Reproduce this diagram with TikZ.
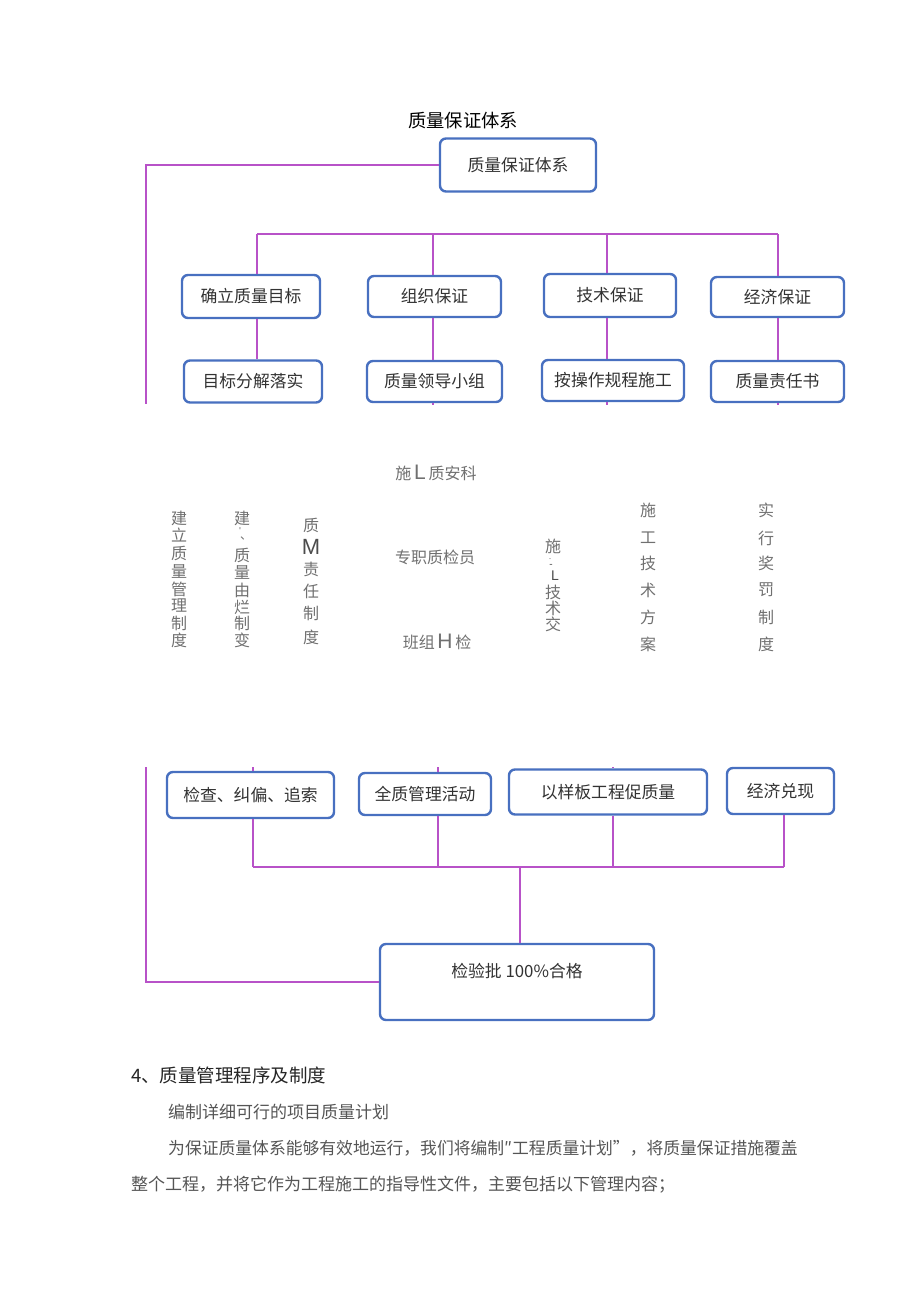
\documentclass[tikz,border=0pt]{standalone}
\usepackage{fontspec}
\newfontfamily\cjk{Noto Sans CJK SC}
\newfontfamily\lat{Liberation Sans}
\definecolor{boxblue}{RGB}{72,112,192}
\definecolor{linkpink}{RGB}{184,82,200}
\definecolor{boxtext}{RGB}{50,50,50}
\definecolor{midgray}{RGB}{112,112,112}
\definecolor{bodygray}{RGB}{85,85,85}
\begin{document}
\begin{tikzpicture}[x=1pt,y=-1pt,
  box/.style={draw=boxblue, line width=2.4pt, rounded corners=6pt, fill=white, inner sep=0pt,
    font=\cjk\fontsize{16.8}{16.8}\selectfont, text=boxtext},
  link/.style={draw=linkpink, line width=1.6pt},
  midtxt/.style={font=\cjk\fontsize{16}{16}\selectfont, text=midgray, inner sep=0pt},
  bodytxt/.style={font=\cjk\fontsize{17}{17}\selectfont, text=bodygray, inner sep=0pt, anchor=west}]
\useasboundingbox[fill=white] (0,0) rectangle (920,1302);

% title
\node[font=\cjk\fontsize{18.3}{18.3}\selectfont, text=black, inner sep=0pt] (title) at (463,121) {质量保证体系};

% top box
\node[box, minimum width=156pt, minimum height=53pt] (top) at (518,165) {质量保证体系};

% row 1
\node[box, minimum width=138pt, minimum height=43pt] (r1a) at (251,296.5) {确立质量目标};
\node[box, minimum width=133pt, minimum height=41pt] (r1b) at (434.5,296.5) {组织保证};
\node[box, minimum width=132pt, minimum height=43pt] (r1c) at (610,295.5) {技术保证};
\node[box, minimum width=133pt, minimum height=40pt] (r1d) at (777.5,297) {经济保证};
% row 2
\node[box, minimum width=138pt, minimum height=42pt] (r2a) at (253,381.5) {目标分解落实};
\node[box, minimum width=135pt, minimum height=41pt] (r2b) at (434.5,381.5) {质量领导小组};
\node[box, minimum width=142pt, minimum height=41pt] (r2c) at (613,380.5) {按操作规程施工};
\node[box, minimum width=133pt, minimum height=41pt] (r2d) at (777.5,381.5) {质量责任书};

% upper connectors
\coordinate (cutA) at (146,404);
\draw[link] (top.west) -| (cutA);
\coordinate (bus1) at (257,234);
\coordinate (bus2) at (433,234);
\coordinate (bus3) at (607,234);
\coordinate (bus4) at (778,234);
\draw[link] (bus1) -- (bus4);
\draw[link] (bus1) -- (bus1 |- r1a.north);
\draw[link] (bus2) -- (bus2 |- r1b.north);
\draw[link] (bus3) -- (bus3 |- r1c.north);
\draw[link] (bus4) -- (bus4 |- r1d.north);
\draw[link] (bus1 |- r1a.south) -- (bus1 |- r2a.north);
\draw[link] (bus2 |- r1b.south) -- (bus2 |- r2b.north);
\draw[link] (bus3 |- r1c.south) -- (bus3 |- r2c.north);
\draw[link] (bus4 |- r1d.south) -- (bus4 |- r2d.north);
\coordinate (cut2) at (433,405);
\coordinate (cut3) at (607,405);
\coordinate (cut4) at (778,405);
\draw[link] (cut2 |- r2b.south) -- (cut2);
\draw[link] (cut3 |- r2c.south) -- (cut3);
\draw[link] (cut4 |- r2d.south) -- (cut4);

% middle texts
\node[midtxt] (m1) at (436,473) {施\,{\lat\fontsize{21}{21}\selectfont L}\,质安科};
\node[midtxt] (m2) at (435,557) {专职质检员};
\node[midtxt] (m3) at (437,642) {班组\,{\lat\fontsize{21}{21}\selectfont H}\,检};

\foreach \c/\y [count=\i] in {建/518,立/535.5,质/553,量/571,管/589,理/606,制/623,度/640}
  \node[midtxt] (ca\i) at (179,\y) {\c};
\foreach \c/\y [count=\i] in {建/518,质/555,量/572,由/590,烂/607,制/623,变/640}
  \node[midtxt] (cb\i) at (242,\y) {\c};
\node[midtxt, font=\lat\fontsize{10}{10}\selectfont] (cbq) at (240,531) {'};
\node[midtxt, font=\cjk\fontsize{12}{12}\selectfont] (cbd) at (246,538) {、};
\foreach \c/\y [count=\i] in {质/525,责/569,任/591,制/613,度/637}
  \node[midtxt] (cc\i) at (311,\y) {\c};
\node[midtxt, font=\lat\fontsize{22}{22}\selectfont, text=black!70] (ccm) at (311,547) {M};
\foreach \c/\y [count=\i] in {施/546,技/592,术/608,交/624}
  \node[midtxt] (cd\i) at (553,\y) {\c};
\node[midtxt, font=\lat\fontsize{9}{9}\selectfont] (cddot) at (550,560) {·};
\node[midtxt, font=\lat\fontsize{10}{10}\selectfont, text=black!70] (cddash) at (551,566) {-};
\node[midtxt, font=\lat\fontsize{14}{14}\selectfont, text=black!70] (cdl) at (555,576) {L};
\foreach \c/\y [count=\i] in {施/510,工/538,技/563,术/590,方/617,案/644}
  \node[midtxt] (ce\i) at (648,\y) {\c};
\foreach \c/\y [count=\i] in {实/510,行/538,奖/563,罚/590,制/617,度/644}
  \node[midtxt] (cf\i) at (766,\y) {\c};

% row 3
\node[box, minimum width=167pt, minimum height=46pt] (r3a) at (250.5,795) {检查、纠偏、追索};
\node[box, minimum width=132pt, minimum height=42pt] (r3b) at (425,794) {全质管理活动};
\node[box, minimum width=198pt, minimum height=45pt] (r3c) at (608,792) {以样板工程促质量};
\node[box, minimum width=107pt, minimum height=46pt] (r3d) at (780.5,791) {经济兑现};

% bottom box
\node[box, minimum width=274pt, minimum height=76pt] (bot) at (517,982) {};
\node[font=\cjk\fontsize{16.8}{16.8}\selectfont, text=boxtext, inner sep=0pt] (bottxt) at (517,971) {检验批 100\%合格};

% lower connectors
\coordinate (up1) at (253,767);
\coordinate (up2) at (438,767);
\coordinate (up3) at (613,767);
\draw[link] (up1) -- (up1 |- r3a.north);
\draw[link] (up2) -- (up2 |- r3b.north);
\draw[link] (up3) -- (up3 |- r3c.north);
\coordinate (lb1) at (253,867);
\coordinate (lb2) at (438,867);
\coordinate (lb3) at (613,867);
\coordinate (lb4) at (784,867);
\coordinate (lbm) at (520,867);
\draw[link] (lb1 |- r3a.south) -- (lb1);
\draw[link] (lb2 |- r3b.south) -- (lb2);
\draw[link] (lb3 |- r3c.south) -- (lb3);
\draw[link] (lb4 |- r3d.south) -- (lb4);
\draw[link] (lb1) -- (lb4);
\draw[link] (lbm) -- (lbm |- bot.north);
\coordinate (cutB) at (146,767);
\draw[link] (cutB) |- (bot.west);

% body text
\node[font=\cjk\fontsize{18.5}{18.5}\selectfont, text=black!85, inner sep=0pt, anchor=west] (h4) at (131,1075) {4、质量管理程序及制度};
\node[bodytxt] (p1) at (168,1112) {编制详细可行的项目质量计划};
\node[bodytxt, font=\cjk\fontsize{16.8}{16.8}\selectfont] (p2) at (168,1148) {为保证质量体系能够有效地运行，我们将编制″工程质量计划”，将质量保证措施覆盖};
\node[bodytxt] (p3) at (131,1185) {整个工程，并将它作为工程施工的指导性文件，主要包括以下管理内容；};
\end{tikzpicture}
\end{document}
